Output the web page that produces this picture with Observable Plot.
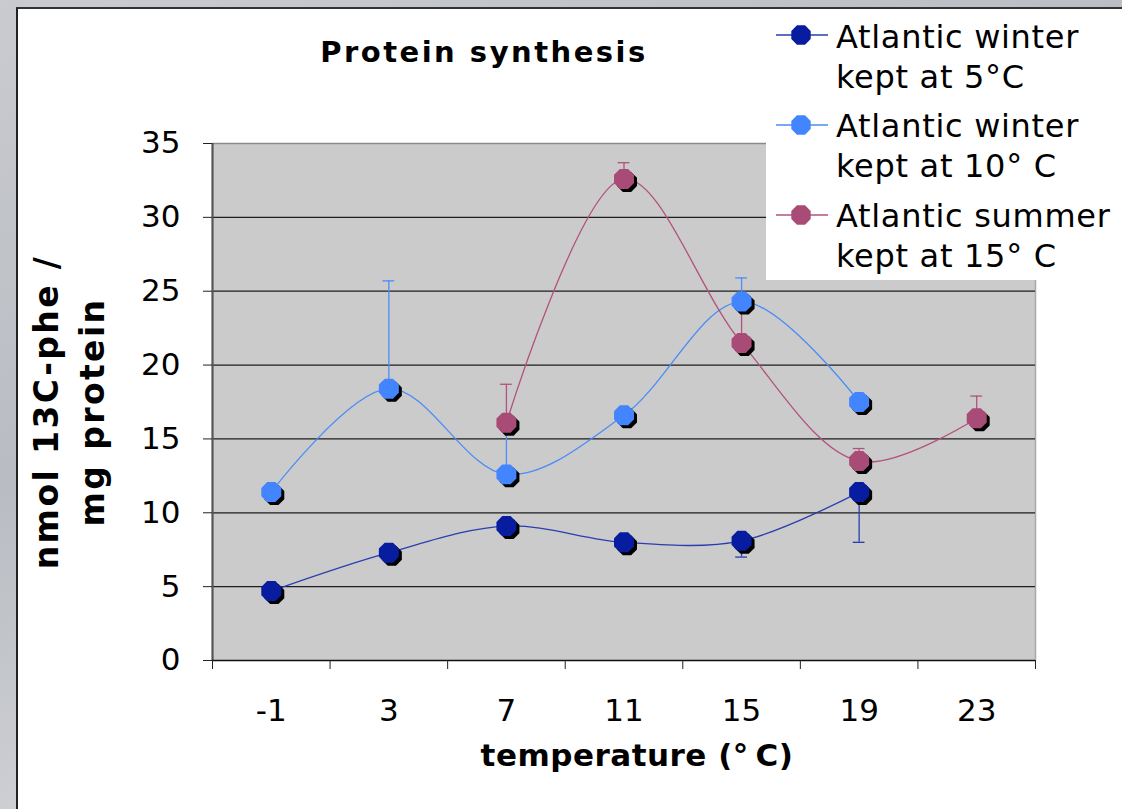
<!DOCTYPE html>
<html>
<head>
<meta charset="utf-8">
<script src="https://cdn.jsdelivr.net/npm/d3@7"></script>
<script src="https://cdn.jsdelivr.net/npm/@observablehq/plot@0.6"></script>
<style>
  html, body { margin: 0; padding: 0; }
  body {
    width: 1122px; height: 809px; overflow: hidden; position: relative;
    background: linear-gradient(160deg, #c9cbd0 0%, #b9bcc2 40%, #cfd1d5 70%, #bdbfc4 100%);
    font-family: "DejaVu Sans", Verdana, sans-serif;
  }
  #panel {
    position: absolute; left: 16px; top: 7px; width: 1110px; height: 806px;
    background: #fff; border-left: 2px solid #222; border-top: 2px solid #333;
  }
  #chart { position: absolute; left: 0; top: 0; }
  #title {
    position: absolute; left: 234px; width: 500px; top: 38px; text-align: center;
    font-weight: bold; font-size: 29px; line-height: 29px; letter-spacing: 2.5px; color: #000;
    white-space: nowrap;
  }
  #ytitle {
    position: absolute; width: 420px; left: -140px; top: 366px; height: 92px;
    transform: rotate(-90deg); transform-origin: 210px 46px;
    text-align: center; font-weight: bold; font-size: 33px; line-height: 46px; letter-spacing: 2.4px;
    white-space: nowrap; color: #000;
  }
  #xtitle {
    position: absolute; left: 337px; width: 600px; top: 740px; text-align: center;
    font-weight: bold; font-size: 31px; line-height: 31px; letter-spacing: 0.5px; color: #000;
    white-space: nowrap;
  }
  #legend {
    position: absolute; left: 766px; top: 9px; width: 356px; height: 271px; background: #fff;
  }
  .entry { position: absolute; left: 0; width: 356px; height: 90px; }
  .entry svg { position: absolute; left: 8px; top: 0; }
  .entry .lbl {
    position: absolute; left: 70px; font-size: 32px; line-height: 40px; letter-spacing: 0.7px;
    color: #000; white-space: nowrap;
  }
</style>
</head>
<body>
<div id="panel"></div>
<div id="chart"></div>
<div id="title">Protein synthesis</div>
<div id="ytitle">nmol 13C-phe /<br>mg protein</div>
<div id="xtitle">temperature (°&#8201;C)</div>
<div id="legend"></div>
<script>
// ---- data ----
const temps = [-1, 3, 7, 11, 15, 19, 23];           // category labels (°C)
const bandEdges = [-3, 1, 5, 9, 13, 17, 21, 25];     // category boundaries (tick marks)
const yTicks = [0, 5, 10, 15, 20, 25, 30, 35];
const seriesNames = ["Atlantic winter\nkept at 5°C", "Atlantic winter\nkept at 10° C", "Atlantic summer\nkept at 15° C"];
const seriesFill = ["#071c9e", "#4385ff", "#a84b77"];
const seriesLine = ["#2a3db0", "#4a8cf7", "#b3527f"];
const winter5  = [4.7, 7.3, 9.1, 8.0, 8.1, 11.4, null];
const winter10 = [11.4, 18.4, 12.6, 16.6, 24.3, 17.5, null];
const summer15 = [null, null, 16.1, 32.6, 21.5, 13.5, 16.4];
// error-bar ends (where visible)
const winter5Err  = [null, null, null, null, 7.0, 8.0, null];
const winter10Err = [null, 25.7, 16.0, null, 25.9, null, null];
const summer15Err = [null, null, 18.7, 33.7, 23.8, 14.35, 17.9];

const values = [winter5, winter10, summer15];
const errs = [winter5Err, winter10Err, summer15Err];

const points = [];
const errors = [];
values.forEach((vals, s) => {
  vals.forEach((v, i) => {
    if (v != null) points.push({s, x: temps[i], y: v});
    const e = errs[s][i];
    if (e != null && v != null) errors.push({s, x: temps[i], y: v, e});
  });
});

const octagon = {
  draw(ctx, size) {
    const r = Math.sqrt(size / Math.PI) * 1.03;
    for (let k = 0; k < 8; k++) {
      const a = Math.PI / 8 + k * Math.PI / 4;
      const px = r * Math.cos(a), py = r * Math.sin(a);
      if (k === 0) ctx.moveTo(px, py); else ctx.lineTo(px, py);
    }
    ctx.closePath();
  }
};

const marks = [
  Plot.frame({fill: "#cbcbcb", stroke: null}),
  Plot.ruleY([35], {stroke: "#8a8a8a", strokeWidth: 1.5}),
  Plot.ruleX([25], {stroke: "#a8a8a8", strokeWidth: 1.5}),
  Plot.ruleY(yTicks.filter(d => d > 0 && d < 35), {stroke: "#1e1e1e", strokeWidth: 1.3}),
  Plot.ruleX([-3], {stroke: "#555", strokeWidth: 2.2}),
  Plot.ruleY([0], {stroke: "#111", strokeWidth: 1.6}),
  Plot.axisY(yTicks, {tickSize: 9, tickPadding: 23, fontSize: 31, stroke: "#222", fill: "#000", label: null, tickFormat: d => String(d)}),
  Plot.axisX(bandEdges, {tickSize: 9, stroke: "#222", label: null, tickFormat: () => ""}),
  Plot.axisX(temps, {tickSize: 0, tickPadding: 38, fontSize: 31, fill: "#000", label: null, tickFormat: d => String(d)}),
];
values.forEach((vals, s) => {
  marks.push(Plot.line(points.filter(p => p.s === s), {x: "x", y: "y", curve: "catmull-rom", stroke: seriesLine[s], strokeWidth: 1.3}));
});
values.forEach((vals, s) => {
  const ed = errors.filter(d => d.s === s);
  marks.push(Plot.ruleX(ed, {x: "x", y1: "y", y2: "e", stroke: seriesLine[s], strokeWidth: 1.3}));
  marks.push(Plot.ruleY(ed, {y: "e", x1: d => d.x - 0.2, x2: d => d.x + 0.2, stroke: seriesLine[s], strokeWidth: 1.3}));
});
marks.push(Plot.dot(points, {x: "x", y: "y", r: 10.5, symbol: octagon, fill: "#000", stroke: null, dx: 3, dy: 3}));
values.forEach((vals, s) => {
  marks.push(Plot.dot(points.filter(p => p.s === s), {x: "x", y: "y", r: 10.5, symbol: octagon, fill: seriesFill[s], stroke: null}));
});

const chart = Plot.plot({
  width: 1122, height: 809,
  marginLeft: 212, marginRight: 87, marginTop: 143, marginBottom: 149,
  style: {background: "transparent", fontFamily: "DejaVu Sans, Verdana, sans-serif", color: "#000"},
  x: {type: "linear", domain: [-3, 25]},
  y: {type: "linear", domain: [0, 35]},
  marks
});
document.getElementById("chart").appendChild(chart);

// legend
const legend = document.getElementById("legend");
const entryTops = [17, 106, 196];
const symCenters = [35, 125, 215];
seriesNames.forEach((name, s) => {
  const e = document.createElement("div");
  e.className = "entry";
  e.style.top = (entryTops[s] - 9) + "px";
  const symTop = symCenters[s] - entryTops[s];
  e.innerHTML =
    `<svg width="56" height="40" style="top:${symTop - 20}px">` +
    `<line x1="2" x2="54" y1="20" y2="20" stroke="${seriesLine[s]}" stroke-width="1.5"/>` +
    `<polygon fill="${seriesFill[s]}" points="${d3.range(8).map(k => { const a = Math.PI/8 + k*Math.PI/4; return (27 + 10.5*Math.cos(a)) + ',' + (20 + 10.5*Math.sin(a)); }).join(' ')}"/>` +
    `</svg>` +
    name.split("\n").map((t, j) => `<div class="lbl" style="top:${j * 40}px">${t}</div>`).join("");
  legend.appendChild(e);
});
</script>
</body>
</html>
